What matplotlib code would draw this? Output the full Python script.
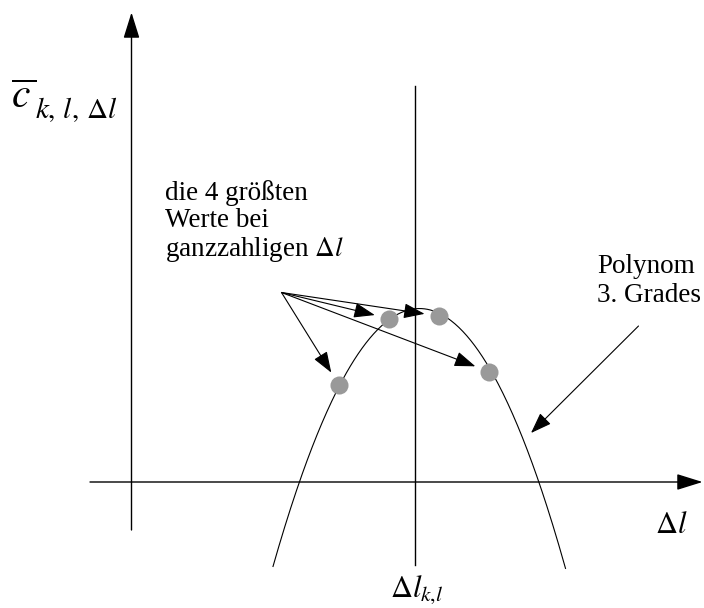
import numpy as np
import matplotlib
matplotlib.use("Agg")
import matplotlib.pyplot as plt

plt.rcParams["font.family"] = ["Liberation Serif", "DejaVu Serif"]
plt.rcParams["mathtext.fontset"] = "stix"

# correlation values at the integer shifts (the four largest)
shift_points = [-1, 0, 1, 2]
corr_points = [1.94, 3.27, 3.32, 2.21]

# samples along the fitted curve
curve_shift = [-2.28, -1.79, -1, 0, 1, 2, 2.72, 2.97, 3.47]
curve_corr = [-1.56, 0.0, 1.94, 3.27, 3.32, 2.21, 0.98, 0.0, -1.56]
curve_span = (-2.32, 3.53)

# position of the interpolated maximum
shift_max = 0.51

fig = plt.figure(figsize=(7.04, 6.08), dpi=100)
ax = fig.add_axes([0, 0, 1, 1])
ax.set_xlim(-7.78, 6.30)
ax.set_ylim(-2.52, 9.64)
ax.axis("off")

axis_arrow = dict(arrowstyle="-|>,head_length=1.6,head_width=0.5",
                  color="black", lw=1.0, shrinkA=0, shrinkB=0,
                  mutation_scale=10)
# coordinate axes
ax.annotate("", xy=(6.27, 0), xytext=(-5.98, 0), arrowprops=axis_arrow)
ax.annotate("", xy=(-5.15, 9.39), xytext=(-5.15, -0.96), arrowprops=axis_arrow)

# vertical line at the maximum
ax.plot([shift_max, shift_max], [-1.66, 7.93], color="black", lw=1.0)

# third-order polynomial
coef = np.polyfit(curve_shift, curve_corr, 3)
xs = np.linspace(curve_span[0], curve_span[1], 300)
ax.plot(xs, np.polyval(coef, xs), color="black", lw=0.8)

ax.plot(shift_points, corr_points, "o", color="#999999", markersize=13,
        markeredgewidth=0, zorder=5)

pointer = dict(arrowstyle="-|>,head_length=1.3,head_width=0.47",
               color="black", lw=0.8, shrinkA=0, shrinkB=10.5,
               mutation_scale=10)
for x, y in zip(shift_points, corr_points):
    ax.annotate("", xy=(x, y), xytext=(-2.15, 3.79), arrowprops=pointer)

ax.annotate("", xy=(2.84, 0.98), xytext=(4.99, 3.12),
            arrowprops=dict(pointer, shrinkB=0))

ax.text(-4.48, 6.04, "die 4 größten\nWerte bei\nganzzahligen $\\Delta l$",
        fontsize=19.5, va="top", ha="left", linespacing=1.1)
ax.text(4.16, 4.56, "Polynom\n3. Grades", fontsize=19.5, va="top",
        ha="left", linespacing=1.22)

ax.text(5.32, -1.02, "$\\Delta l$", fontsize=22, va="baseline", ha="left")
ax.text(0.02, -2.30, "$\\Delta l_{k{,}l}$", fontsize=22, va="baseline", ha="left")

# y-axis label: barred c with a separate, lowered subscript
ax.text(-7.56, 7.48, "$\\overline{c\\,}$", fontsize=30, va="baseline", ha="left")
ax.text(-7.08, 7.28, "$k,\\,l,\\,\\Delta l$", fontsize=21, va="baseline",
        ha="left")

fig.savefig("out.png", dpi=100)
